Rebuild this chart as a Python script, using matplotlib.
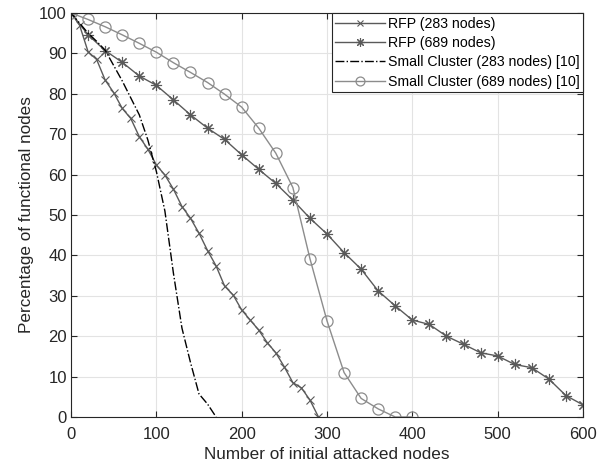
import numpy as np
import matplotlib.pyplot as plt

plt.rcParams['font.family'] = ['Liberation Sans', 'DejaVu Sans']

# RFP (283 nodes), every 10 attacked nodes
rfp283_x = list(range(0, 300, 10))
rfp283_y = [100, 97, 90.4, 88.5, 83.4, 80.3, 76.4, 73.9, 69.4, 66.3,
            62.4, 59.9, 56.4, 52.1, 49.2, 45.5, 41.2, 37.4, 32.4, 30.2,
            26.5, 24.0, 21.5, 18.4, 15.9, 12.4, 8.5, 7.2, 4.2, 0]

# RFP (689 nodes), every 20 attacked nodes
rfp689_x = list(range(0, 620, 20))
rfp689_y = [100, 94.6, 90.7, 87.8, 84.4, 82.1, 78.5, 74.8, 71.5, 68.7,
            64.9, 61.3, 57.8, 53.7, 49.2, 45.3, 40.7, 36.6, 31.2, 27.5,
            24.0, 22.9, 20.0, 18.0, 15.9, 15.1, 13.0, 12.2, 9.4, 5.3, 3.0]

# Small Cluster (283 nodes) [10]
sc283_x = list(range(0, 180, 10))
sc283_y = [100, 97.5, 95, 93, 90.8, 87, 83.2, 79, 74.8, 68.6,
           60.8, 51, 35.6, 22, 13.5, 5.7, 3.2, 0]

# Small Cluster (689 nodes) [10]
sc689_x = list(range(0, 420, 20))
sc689_y = [100, 98.4, 96.6, 94.6, 92.5, 90.3, 87.7, 85.3, 82.8, 79.9,
           76.7, 71.5, 65.3, 56.8, 39.2, 23.8, 11.0, 4.6, 2.0, 0, 0]

fig = plt.figure(figsize=(6.05, 4.70), dpi=100)
ax = fig.add_axes([0.1174, 0.1128, 0.8462, 0.8595])

ax.plot(rfp283_x, rfp283_y, color='#5a5a5a', lw=1.0, marker='x', ms=6, mew=0.8,
        label='RFP (283 nodes)')
ax.plot(rfp689_x, rfp689_y, color='#5a5a5a', lw=1.0, marker=(8, 2, 0), ms=8, mew=0.8,
        label='RFP (689 nodes)')
ax.plot(sc283_x, sc283_y, color='black', lw=1.0, ls='-.',
        label='Small Cluster (283 nodes) [10]')
ax.plot(sc689_x, sc689_y, color='#8c8c8c', lw=1.0, marker='o', ms=8, mfc='none', mew=0.9,
        label='Small Cluster (689 nodes) [10]')

ax.set_xlim(0, 600)
ax.set_ylim(0, 100)
ax.set_xticks(np.arange(0, 601, 100))
ax.set_yticks(np.arange(0, 101, 10))
ax.grid(True, color='#e3e3e3', lw=0.8)
ax.set_axisbelow(True)
ax.tick_params(direction='in', top=True, right=True, labelsize=12, length=4,
               colors='#262626')
ax.tick_params(axis='x', pad=7)
ax.tick_params(axis='y', pad=3)
for s in ax.spines.values():
    s.set_color('#262626')
    s.set_linewidth(0.8)

ax.set_xlabel('Number of initial attacked nodes', fontsize=12.3, labelpad=4, color='#262626')
ax.set_ylabel('Percentage of functional nodes', fontsize=12.3, labelpad=4, color='#262626')

# legend markers a bit smaller, like the reference
leg = ax.legend(loc='upper right', fontsize=10.2, fancybox=False, framealpha=1,
                edgecolor='#262626', borderaxespad=0, handlelength=3.5,
                handletextpad=0.2, labelspacing=0.38, borderpad=0.25,
                markerscale=0.8)
leg.get_frame().set_linewidth(0.8)

fig.savefig('out.png', dpi=100)
